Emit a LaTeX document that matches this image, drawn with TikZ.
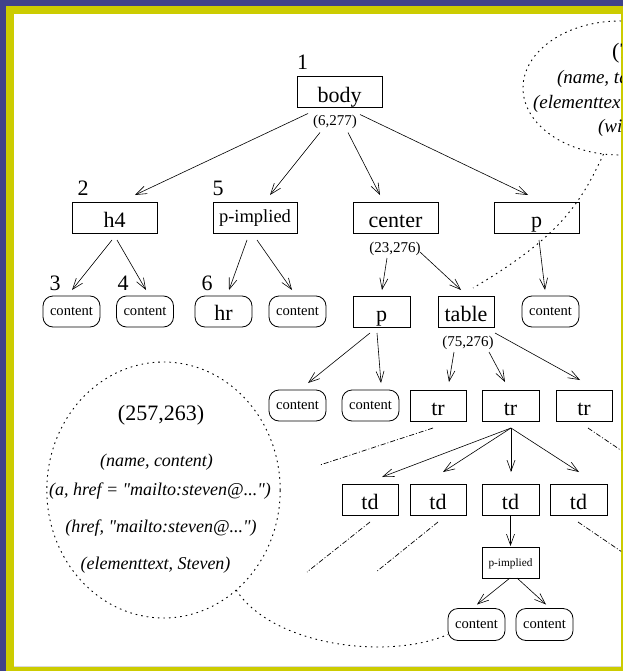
\documentclass[tikz,border=0pt]{standalone}
\usepackage{fontspec}
\setmainfont{Liberation Serif}
\newfontfamily\attrfont{Liberation Serif}
\usetikzlibrary{arrows.meta,shapes.geometric,calc}
\definecolor{frameblue}{RGB}{64,66,138}
\definecolor{frameyellow}{RGB}{204,204,0}

\begin{document}
\begin{tikzpicture}[x=1pt,y=-1pt,
  every node/.style={inner sep=0pt, outer sep=0pt},
  numlbl/.style={font=\fontsize{22}{22}\selectfont},
  rangelbl/.style={font=\fontsize{15}{15}\selectfont},
  attrlbl/.style={font=\attrfont\itshape\fontsize{18}{18}\selectfont},
  tblattr/.style={font=\attrfont\itshape\fontsize{19}{19}\selectfont, anchor=west},
  elem/.style={draw, line width=0.8pt, minimum height=31pt,
    font=\fontsize{22}{22}\selectfont, text height=21pt, text depth=0.5pt},
  midelem/.style={draw, line width=0.8pt, minimum height=31pt,
    font=\fontsize{18.5}{18.5}\selectfont, text height=12pt, text depth=3pt},
  smallelem/.style={draw, line width=0.8pt, minimum height=31pt, minimum width=57pt,
    font=\fontsize{11.3}{11.3}\selectfont, text height=9.5pt, text depth=2.5pt},
  leafbox/.style={draw, line width=0.8pt, rounded corners=10pt, minimum height=31pt,
    minimum width=57pt, font=\fontsize{14.6}{14.6}\selectfont,
    text height=10pt, text depth=3pt},
  bigleaf/.style={leafbox, font=\fontsize{22}{22}\selectfont, text height=17pt, text depth=0pt},
  treelink/.style={-{Straight Barb[length=11pt,width=8pt]}, line width=0.6pt},
  elided/.style={line width=0.7pt, dash pattern=on 5pt off 2pt on 1pt off 2pt},
  dotline/.style={line width=0.9pt, dash pattern=on 1.6pt off 4pt},
]
\useasboundingbox (0,0) rectangle (623,671);

% frame
\fill[frameblue] (0,0) rectangle (623,671);
\fill[frameyellow] (6,6) rectangle (623,671);
\fill[white] (14,14) rectangle (621,666);
\draw[gray!30, line width=1pt] (14,666.5) -- (621,666.5);

\begin{scope}
\clip (14,14) rectangle (621,666);

% level 1
\node[elem, minimum width=85pt] (body) at (339.5,92) {body};
\node[numlbl] (n1) at (302.5,62.5) {1};
\node[rangelbl] (bodyrange) at (335,121.5) {(6,277)};

% level 2
\node[elem, minimum width=85pt] (h4) at (114.5,217.5) {h4};
\node[midelem, minimum width=84pt] (pimp) at (255,217.5) {p-implied};
\node[elem, minimum width=85pt] (center) at (395.5,217.5) {center};
\node[elem, minimum width=85pt] (pa) at (536.5,217.5) {p};
\node[numlbl] (n2) at (83,188.5) {2};
\node[numlbl] (n5) at (218,188.5) {5};
\node[rangelbl] (centerrange) at (395,248.5) {(23,276)};

% level 3
\node[leafbox] (c1) at (71.5,311.5) {content};
\node[leafbox] (c2) at (145,311.5) {content};
\node[bigleaf] (hr) at (223.5,311.5) {hr};
\node[leafbox] (c3) at (297.5,311.5) {content};
\node[elem, minimum width=57pt] (pb) at (381.5,311.5) {p};
\node[elem, minimum width=56pt] (table) at (466,311.5) {table};
\node[leafbox] (c4) at (550.5,311.5) {content};
\node[numlbl] (n3) at (55,283.5) {3};
\node[numlbl] (n4) at (123,283.5) {4};
\node[numlbl] (n6) at (207,283.5) {6};
\node[rangelbl] (tablerange) at (468,342.5) {(75,276)};

% level 4
\node[leafbox] (c5) at (297.5,405.5) {content};
\node[leafbox] (c6) at (370.5,405.5) {content};
\node[elem, minimum width=56pt] (tr1) at (438,405.5) {tr};
\node[elem, minimum width=57pt] (tr2) at (510.5,405.5) {tr};
\node[elem, minimum width=56pt] (tr3) at (584,405.5) {tr};

% level 5
\node[elem, minimum width=56pt] (td1) at (370,499.5) {td};
\node[elem, minimum width=56pt] (td2) at (438,499.5) {td};
\node[elem, minimum width=57pt] (td3) at (510.5,499.5) {td};
\node[elem, minimum width=57pt] (td4) at (578.5,499.5) {td};

% level 6 and 7
\node[smallelem] (pimp2) at (510.5,562.5) {p-implied};
\node[leafbox, minimum height=32pt] (c7) at (476.5,624.5) {content};
\node[leafbox, minimum height=32pt] (c8) at (544.5,624.5) {content};

% tree edges
\draw[treelink] ($(body.south)+(-31.5,6)$) -- ($(h4.north)+(20.5,-7)$);
\draw[treelink] ($(body.south)+(-19.5,25)$) -- ($(pimp.north)+(15,-7)$);
\draw[treelink] ($(body.south)+(8.5,25)$) -- ($(center.north)+(-15.5,-7)$);
\draw[treelink] ($(body.south)+(20.5,7)$) -- ($(pa.north)+(-8.5,-7)$);

\draw[treelink] ($(h4.south)+(-2.5,7)$) -- ($(c1.north)+(0.5,-6)$);
\draw[treelink] ($(h4.south)+(2.5,7)$) -- ($(c2.north)+(1,-6)$);
\draw[treelink] ($(pimp.south)+(-8,7)$) -- ($(hr.north)+(5.5,-6)$);
\draw[treelink] ($(pimp.south)+(2,7)$) -- ($(c3.north)+(-5.5,-6)$);
\draw[treelink] ($(center.south)+(-8.5,25)$) -- ($(pb.north)+(0.5,-6)$);
\draw[treelink] ($(center.south)+(24.5,19)$) -- ($(table.north)+(-5,-6)$);
\draw[treelink] ($(pa.south)+(2.5,7)$) -- ($(c4.north)+(-5.5,-6)$);

\draw[treelink] ($(pb.south)+(-11.5,6)$) -- ($(c5.north)+(10.5,-7)$);
\draw[treelink] ($(pb.south)+(-4.5,6)$) -- ($(c6.north)+(10.5,-7)$);
\draw[treelink] ($(table.south)+(-12,25)$) -- ($(tr1.north)+(11,-8)$);
\draw[treelink] ($(table.south)+(23,25)$) -- ($(tr2.north)+(-5.5,-8)$);
\draw[treelink] ($(table.south)+(29,6)$) -- ($(tr3.north)+(-4,-10)$);

\draw[treelink] ($(tr2.south)+(0.5,7)$) -- ($(td1.north)+(12,-7)$);
\draw[treelink] ($(tr2.south)+(0.5,7)$) -- ($(td2.north)+(5,-12)$);
\draw[treelink] ($(tr2.south)+(0.5,7)$) -- ($(td3.north)+(0.5,-12)$);
\draw[treelink] ($(tr2.south)+(0.5,7)$) -- ($(td4.north)+(0.5,-12)$);

\draw[treelink] (td3.south) -- ($(pimp2.north)+(0,-1)$);
\draw[treelink] ($(pimp2.south)+(-0.5,0)$) -- ($(c7.north)+(0.5,-4)$);
\draw[treelink] ($(pimp2.south)+(6.5,0)$) -- ($(c8.north)+(1.5,-4)$);

% subtrees left out
\coordinate (tr1end) at (320,465);
\coordinate (td1end) at (307,572);
\coordinate (td2end) at (376,572);
\coordinate (tr3end) at (625,453);
\coordinate (td4end) at (625,554);
\draw[elided] ($(tr1.south)+(-5,7)$) -- (tr1end);
\draw[elided] ($(td1.south)+(0,7)$) -- (td1end);
\draw[elided] ($(td2.south)+(0,7)$) -- (td2end);
\draw[elided] ($(tr3.south)+(4,7)$) -- (tr3end);
\draw[elided] ($(td4.south)+(-0.5,7)$) -- (td4end);

% attribute bubble of the link text
\node[ellipse, draw, dotline, minimum width=233.4pt, minimum height=256pt] (linkinfo) at (163.5,490) {};
\node[numlbl] (linkrange) at (161,415) {(257,263)};
\node[attrlbl] (la1) at (156.5,462.5) {(name, content)};
\node[attrlbl] (la2) at (160,491.5) {(a, href = "mailto:steven@...")};
\node[attrlbl] (la3) at (161,528.5) {(href, "mailto:steven@...")};
\node[attrlbl] (la4) at (155.5,565) {(elementtext, Steven)};
\draw[dotline] (linkinfo.-54) .. controls (272,645) and (386,661) .. ($(c7.west)+(0,10)$);

% attribute bubble of the table
\node[ellipse, draw, dotline, minimum width=194pt, minimum height=134pt] (tableinfo) at (620,88) {};
\node[numlbl, anchor=west] (tablehead) at (612,53) {(7};
\node[tblattr] (ta1) at (557,78.5) {(name, ta};
\node[tblattr] (ta2) at (533,103.5) {(elementtex};
\node[tblattr] (ta3) at (598,127.5) {(wid};
\draw[dotline] (tableinfo.-104) .. controls (580,205) and (558,238) .. ($(table.north)+(7,-8)$);
\end{scope}
\end{tikzpicture}
\end{document}
